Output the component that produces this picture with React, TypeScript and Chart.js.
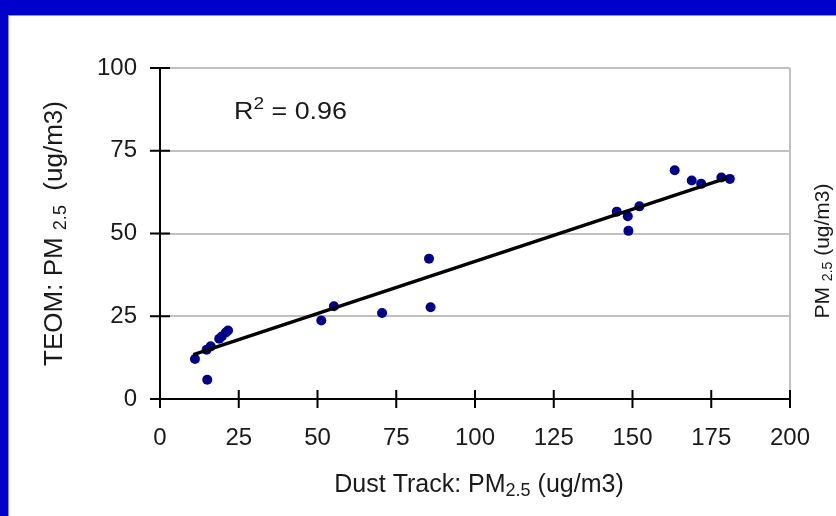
import React, { useEffect, useRef } from "react";
import { Chart, registerables } from "chart.js";

Chart.register(...registerables);

// Scatter data (Dust Track x, TEOM y)
const dustTrack = [11.1, 15.0, 14.8, 16.1, 18.8, 19.6, 20.9, 21.6, 51.2, 55.2, 70.5, 85.4, 85.9, 145.0, 148.5, 148.7, 152.2, 163.4, 168.8, 171.8, 178.2, 180.9];
const teom = [12.1, 5.8, 14.9, 15.9, 18.2, 18.9, 20.1, 20.7, 23.7, 28.0, 26.0, 42.4, 27.7, 56.6, 55.2, 50.8, 58.2, 69.1, 66.0, 65.0, 66.9, 66.5];

// Trend line endpoints
const trendX = [10.6, 180.1];
const trendY = [13.4, 66.8];

const xTicks = [0, 25, 50, 75, 100, 125, 150, 175, 200];
const yTicks = [0, 25, 50, 75, 100];

const r2Text = "0.96";

const FONT = "'Liberation Sans', Arial, sans-serif";
const TEXT = "#1a1a1a";

type Part = { t: string; size: number; dy: number };

function drawParts(ctx: CanvasRenderingContext2D, parts: Part[], x: number, y: number, align: "center" | "left") {
  let total = 0;
  const widths = parts.map((p) => {
    ctx.font = `${p.size}px ${FONT}`;
    const w = ctx.measureText(p.t).width;
    total += w;
    return w;
  });
  let cx = align === "center" ? x - total / 2 : x;
  ctx.textBaseline = "alphabetic";
  ctx.textAlign = "left";
  parts.forEach((p, i) => {
    ctx.font = `${p.size}px ${FONT}`;
    ctx.fillText(p.t, cx, y + p.dy);
    cx += widths[i];
  });
}

const decorPlugin = {
  id: "decor",
  beforeDraw(chart: any) {
    const ctx = chart.ctx as CanvasRenderingContext2D;
    ctx.save();
    ctx.fillStyle = "#ffffff";
    ctx.fillRect(0, 0, chart.width, chart.height);
    ctx.fillStyle = "#0000cc";
    ctx.fillRect(0, 0, chart.width, 15);
    ctx.fillRect(0, 0, 8, chart.height);
    ctx.fillStyle = "#8f8fe6";
    ctx.fillRect(8, 15, chart.width - 8, 1);
    ctx.fillRect(8, 15, 1, chart.height - 15);
    ctx.restore();
  },
  beforeDatasetsDraw(chart: any) {
    const ctx = chart.ctx as CanvasRenderingContext2D;
    const { left, right, top, bottom } = chart.chartArea;
    const xs = chart.scales.x;
    const ys = chart.scales.y;
    ctx.save();
    ctx.strokeStyle = "#c0c0c0";
    ctx.lineWidth = 2;
    ctx.beginPath();
    ctx.moveTo(right, top);
    ctx.lineTo(right, bottom);
    ctx.stroke();
    ctx.strokeStyle = "#000";
    ctx.lineWidth = 2;
    ctx.beginPath();
    ctx.moveTo(left, top - 1);
    ctx.lineTo(left, bottom);
    ctx.lineTo(right, bottom);
    ctx.stroke();
    ctx.beginPath();
    yTicks.forEach((v) => {
      const py = ys.getPixelForValue(v);
      ctx.moveTo(left - 10, py);
      ctx.lineTo(left + 10, py);
    });
    xTicks.forEach((v) => {
      const px = xs.getPixelForValue(v);
      ctx.moveTo(px, bottom - 9);
      ctx.lineTo(px, bottom + 9);
    });
    ctx.stroke();
    ctx.restore();
  },
  afterDraw(chart: any) {
    const ctx = chart.ctx as CanvasRenderingContext2D;
    const { left, right, top, bottom } = chart.chartArea;
    const xs = chart.scales.x;
    const ys = chart.scales.y;
    ctx.save();
    ctx.fillStyle = TEXT;
    // R² annotation
    const rx = xs.getPixelForValue(23.5);
    const ry = ys.getPixelForValue(84.7);
    ctx.save();
    ctx.translate(rx, ry);
    ctx.scale(1.12, 1);
    drawParts(
      ctx,
      [
        { t: "R", size: 24, dy: 0 },
        { t: "2", size: 17, dy: -10 },
        { t: " = " + r2Text, size: 24, dy: 0 },
      ],
      0,
      0,
      "left"
    );
    ctx.restore();
    // x-axis title
    drawParts(
      ctx,
      [
        { t: "Dust Track: PM", size: 25, dy: 0 },
        { t: "2.5", size: 18, dy: 4 },
        { t: " (ug/m3)", size: 25, dy: 0 },
      ],
      (left + right) / 2 + 4,
      492,
      "center"
    );
    // y-axis title
    ctx.save();
    ctx.translate(62, (top + bottom) / 2);
    ctx.rotate(-Math.PI / 2);
    drawParts(
      ctx,
      [
        { t: "TEOM: PM ", size: 26, dy: 0 },
        { t: "2.5", size: 18, dy: 4 },
        { t: "  (ug/m3)", size: 26, dy: 0 },
      ],
      0,
      0,
      "center"
    );
    ctx.restore();
    // partial title of neighbouring chart on the right
    ctx.save();
    ctx.translate(829, 251);
    ctx.rotate(-Math.PI / 2);
    drawParts(
      ctx,
      [
        { t: "PM ", size: 21, dy: 0 },
        { t: "2.5", size: 14, dy: 3 },
        { t: " (ug/m3)", size: 21, dy: 0 },
      ],
      0,
      0,
      "center"
    );
    ctx.restore();
    ctx.restore();
  },
};

export default function App() {
  const ref = useRef<HTMLCanvasElement | null>(null);
  useEffect(() => {
    document.body.style.margin = "0";
    const canvas = ref.current!;
    const chart = new Chart(canvas, {
      type: "scatter",
      data: {
        datasets: [
          {
            type: "line",
            data: trendX.map((x, i) => ({ x, y: trendY[i] })),
            borderColor: "#000",
            borderWidth: 3.5,
            pointRadius: 0,
            fill: false,
            order: 1,
          } as any,
          {
            type: "scatter",
            data: dustTrack.map((x, i) => ({ x, y: teom[i] })),
            backgroundColor: "#00008b",
            borderColor: "#00008b",
            pointRadius: 5,
            pointBorderWidth: 0,
            order: 2,
          },
        ],
      },
      options: {
        responsive: false,
        animation: false,
        layout: { padding: { top: 68, right: 46, left: 0, bottom: 0 } },
        plugins: { legend: { display: false }, tooltip: { enabled: false } },
        scales: {
          x: {
            type: "linear",
            min: 0,
            max: 200,
            afterBuildTicks: (s: any) => {
              s.ticks = xTicks.map((v) => ({ value: v }));
            },
            ticks: { font: { family: FONT, size: 24 }, color: TEXT, padding: 25, maxRotation: 0 },
            grid: { display: false, drawTicks: false },
            border: { display: false },
            afterFit: (s: any) => {
              s.height = 516 - 399;
            },
          },
          y: {
            type: "linear",
            min: 0,
            max: 100,
            afterBuildTicks: (s: any) => {
              s.ticks = yTicks.map((v) => ({ value: v }));
            },
            ticks: { font: { family: FONT, size: 24 }, color: TEXT, padding: 23 },
            grid: { color: "#c0c0c0", lineWidth: 2, drawTicks: false },
            border: { display: false },
            afterFit: (s: any) => {
              s.width = 160;
            },
          },
        },
      },
      plugins: [decorPlugin],
    });
    return () => chart.destroy();
  }, []);
  return (
    <div style={{ width: 836, height: 516, position: "relative" }}>
      <canvas ref={ref} width={836} height={516} style={{ display: "block" }} />
    </div>
  );
}
